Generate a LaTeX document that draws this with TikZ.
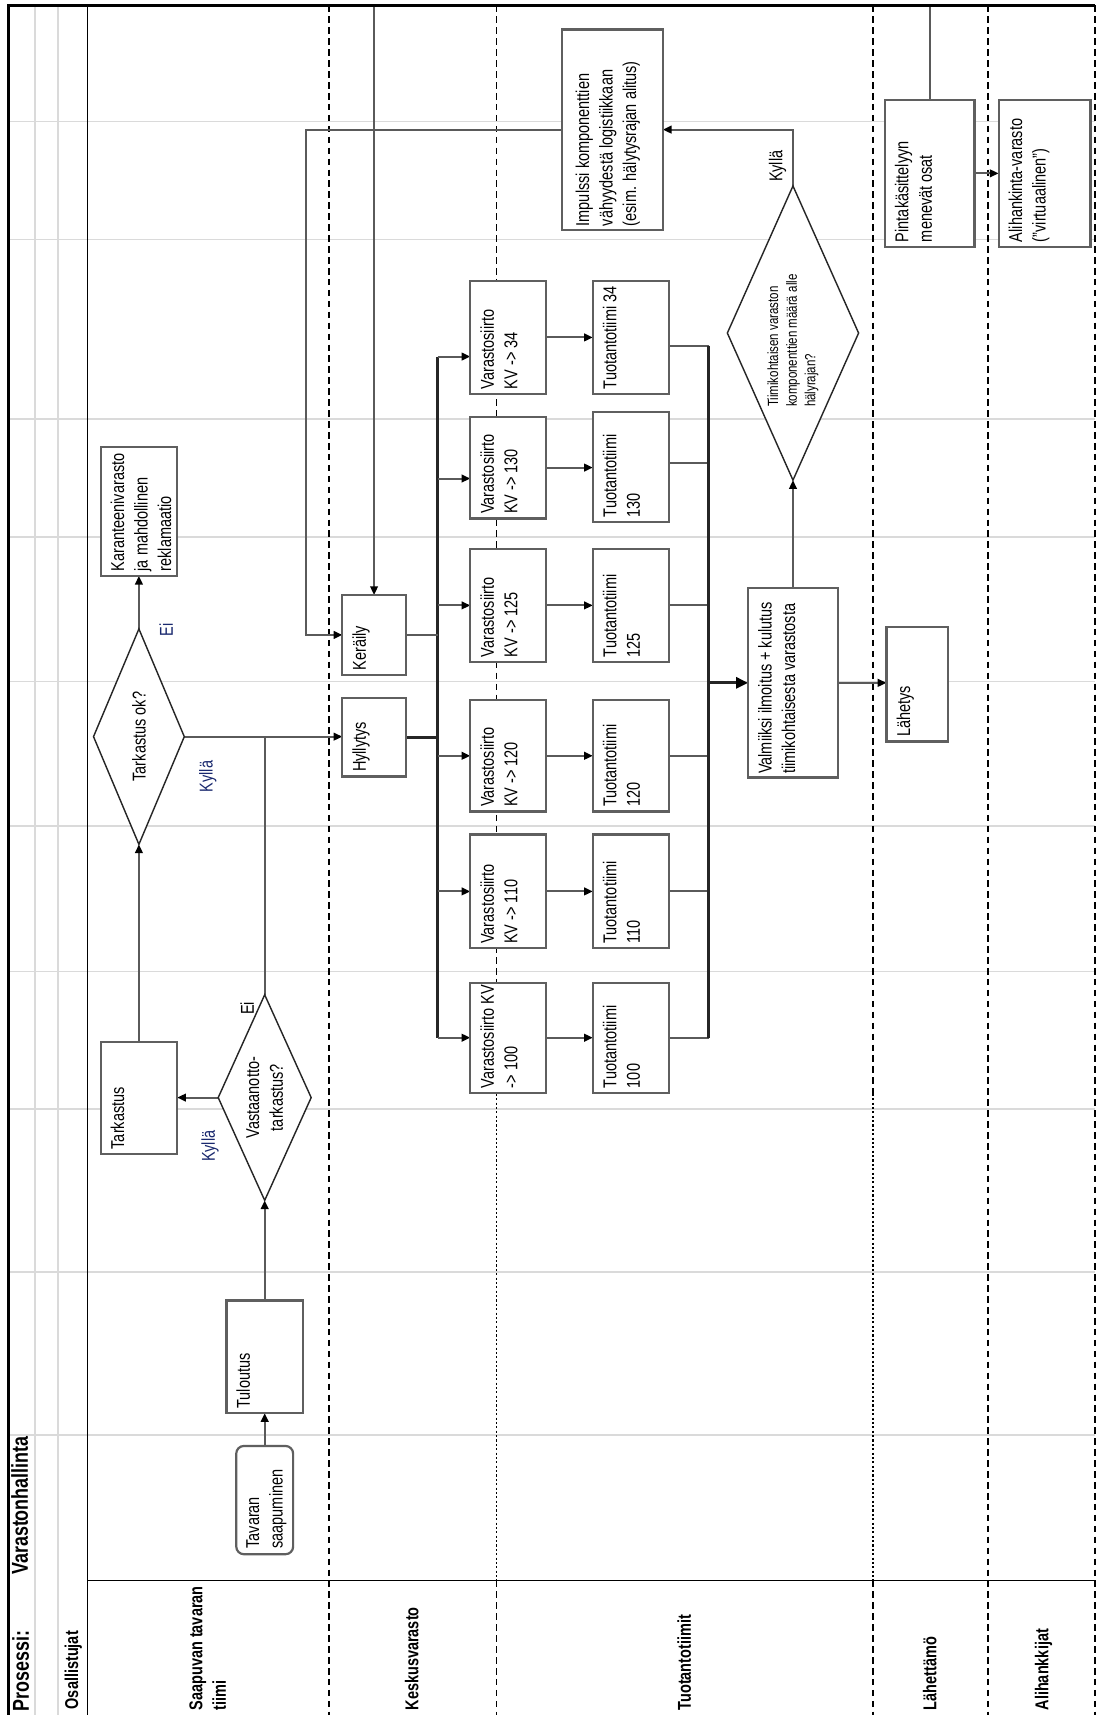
\documentclass[tikz,border=0pt]{standalone}
\usepackage{fontspec}
\setmainfont{Liberation Sans}[FakeStretch=0.78]
\usetikzlibrary{shapes.geometric,arrows.meta}
\pgfdeclarelayer{bg}
\pgfsetlayers{bg,main}
\newcommand\dgtxt{\fontsize{17}{21.5}\selectfont}
\newcommand\dgsmall{\fontsize{13.5}{17}\selectfont}
\newcommand\dgbig{\fontsize{21}{25}\selectfont\bfseries}
\newcommand\dglane{\fontsize{17}{21.5}\selectfont\bfseries}
\definecolor{gridgray}{RGB}{218,218,218}
\definecolor{boxgray}{RGB}{95,95,95}
\definecolor{linegray}{RGB}{90,90,90}
\definecolor{lblblue}{RGB}{25,40,110}
\begin{document}
\begin{tikzpicture}[x=1pt,y=-1pt,
  box/.style={rectangle,draw=boxgray,line width=2pt,fill=white,inner sep=0pt,outer sep=0pt},
  dia/.style={diamond,draw=black!85,line width=1.3pt,fill=white,inner sep=0pt,outer sep=0pt},
  txt/.style={rotate=90,anchor=north west,inner sep=0pt,align=left,font=\dgtxt},
  ctxt/.style={rotate=90,anchor=center,inner sep=0pt,align=center,font=\dgtxt},
  lbl/.style={rotate=90,anchor=center,inner sep=0pt,font=\dgtxt},
  lanelbl/.style={rotate=90,anchor=west,inner sep=0pt,font=\dglane},
  conn/.style={draw=linegray,line width=1.8pt,-{Triangle[length=8pt,width=7pt,color=black]}},
  plain/.style={draw=linegray,line width=1.8pt},
  busline/.style={draw=black!85,line width=2.6pt},
  gridln/.style={draw=gridgray,line width=1.3pt},
  lane/.style={draw=black,line width=1.6pt,dash pattern=on 6pt off 4pt},
  laned/.style={draw=black,line width=1.4pt,dash pattern=on 2pt off 2pt}]
\useasboundingbox (0,0) rectangle (1011,1568);

% ---------- process boxes ----------
\node[box,minimum width=52pt,minimum height=99pt,rounded corners=7pt] (tav) at (242,1371.5) {};
\node[box,minimum width=70pt,minimum height=103pt] (tul) at (242,1240.5) {};
\node[box,minimum width=70pt,minimum height=102pt] (tar) at (127,1004) {};
\node[box,minimum width=70pt,minimum height=118pt] (kar) at (127,467.5) {};
\node[box,minimum width=58pt,minimum height=72pt] (hyl) at (342,674) {};
\node[box,minimum width=58pt,minimum height=73pt] (ker) at (342,580.5) {};
\node[box,minimum width=69pt,minimum height=103pt] (v34) at (464.5,308.5) {};
\node[box,minimum width=69pt,minimum height=93pt] (v130) at (464.5,427.5) {};
\node[box,minimum width=69pt,minimum height=103pt] (v125) at (464.5,553.5) {};
\node[box,minimum width=69pt,minimum height=102pt] (v120) at (464.5,691) {};
\node[box,minimum width=69pt,minimum height=104pt] (v110) at (464.5,815) {};
\node[box,minimum width=69pt,minimum height=100.5pt] (v100) at (464.5,948.75) {};
\node[box,minimum width=70pt,minimum height=103pt] (t34) at (577,308.5) {};
\node[box,minimum width=70pt,minimum height=100pt] (t130) at (577,427) {};
\node[box,minimum width=70pt,minimum height=103pt] (t125) at (577,553.5) {};
\node[box,minimum width=70pt,minimum height=102pt] (t120) at (577,691) {};
\node[box,minimum width=70pt,minimum height=104pt] (t110) at (577,815) {};
\node[box,minimum width=70pt,minimum height=100.5pt] (t100) at (577,948.75) {};
\node[box,minimum width=82pt,minimum height=173pt] (val) at (725,624.3) {};
\node[box,minimum width=56pt,minimum height=105pt] (lah) at (838.5,625.5) {};
\node[box,minimum width=92pt,minimum height=183pt] (imp) at (560,118.5) {};
\node[box,minimum width=82pt,minimum height=134pt] (pin) at (850,158.5) {};
\node[box,minimum width=84pt,minimum height=134pt] (ali) at (955,158.5) {};

% ---------- decisions ----------
\node[dia,minimum width=83pt,minimum height=197pt] (dto) at (127,673.5) {};
\node[dia,minimum width=85pt,minimum height=188pt] (dvt) at (242,1003.5) {};
\node[dia,minimum width=120pt,minimum height=269pt] (dtk) at (725,304.5) {};

% ---------- texts in boxes ----------
\node[txt] (tavT) at ([xshift=9pt,yshift=5pt]tav.south west) {Tavaran\\saapuminen};
\node[txt] (tulT) at ([xshift=9pt,yshift=4pt]tul.south west) {Tuloutus};
\node[txt] (tarT) at ([xshift=9pt,yshift=4pt]tar.south west) {Tarkastus};
\node[txt] (karT) at ([xshift=9pt,yshift=4pt]kar.south west) {Karanteenivarasto\\ja mahdollinen\\reklamaatio};
\node[txt] (hylT) at ([xshift=9pt,yshift=4pt]hyl.south west) {Hyllytys};
\node[txt] (kerT) at ([xshift=9pt,yshift=4pt]ker.south west) {Keräily};
\node[txt] (v34T) at ([xshift=9pt,yshift=4pt]v34.south west) {Varastosiirto\\KV -> 34};
\node[txt] (v130T) at ([xshift=9pt,yshift=4pt]v130.south west) {Varastosiirto\\KV -> 130};
\node[txt] (v125T) at ([xshift=9pt,yshift=4pt]v125.south west) {Varastosiirto\\KV -> 125};
\node[txt] (v120T) at ([xshift=9pt,yshift=4pt]v120.south west) {Varastosiirto\\KV -> 120};
\node[txt] (v110T) at ([xshift=9pt,yshift=4pt]v110.south west) {Varastosiirto\\KV -> 110};
\node[txt] (v100T) at ([xshift=9pt,yshift=4pt]v100.south west) {Varastosiirto KV\\-> 100};
\node[txt] (t34T) at ([xshift=9pt,yshift=4pt]t34.south west) {Tuotantotiimi 34};
\node[txt] (t130T) at ([xshift=9pt,yshift=4pt]t130.south west) {Tuotantotiimi\\130};
\node[txt] (t125T) at ([xshift=9pt,yshift=4pt]t125.south west) {Tuotantotiimi\\125};
\node[txt] (t120T) at ([xshift=9pt,yshift=4pt]t120.south west) {Tuotantotiimi\\120};
\node[txt] (t110T) at ([xshift=9pt,yshift=4pt]t110.south west) {Tuotantotiimi\\110};
\node[txt] (t100T) at ([xshift=9pt,yshift=4pt]t100.south west) {Tuotantotiimi\\100};
\node[txt] (valT) at ([xshift=9pt,yshift=3pt]val.south west) {Valmiiksi ilmoitus + kulutus\\tiimikohtaisesta varastosta};
\node[txt] (lahT) at ([xshift=9pt,yshift=4pt]lah.south west) {Lähetys};
\node[txt] (impT) at ([xshift=12pt,yshift=3pt]imp.south west) {Impulssi komponenttien\\vähyydestä logistiikkaan\\(esim. hälytysrajan alitus)};
\node[txt] (pinT) at ([xshift=9pt,yshift=4pt]pin.south west) {Pintakäsittelyyn\\menevät osat};
\node[txt] (aliT) at ([xshift=9pt,yshift=4pt]ali.south west) {Alihankinta-varasto\\(''virtuaalinen'')};

\node[ctxt] (dtoT) at (dto.center) {Tarkastus ok?};
\node[ctxt] (dvtT) at (dvt.center) {Vastaanotto-\\tarkastus?};
\node[rotate=90,inner sep=0pt,align=left,font=\dgsmall] (dtkT) at ([yshift=-7pt]dtk.center) {Tiimikohtaisen varaston\\komponenttien määrä alle\\hälyrajan?};

% ---------- branch labels ----------
\node[lbl,text=lblblue] (l1) at (152,576) {Ei};
\node[lbl,text=lblblue] (l2) at (190,710) {Kyllä};
\node[lbl] (l3) at (226,922) {Ei};
\node[lbl,text=lblblue] (l4) at (192,1048) {Kyllä};
\node[lbl] (l5) at (711,152) {Kyllä};

% ---------- header and lane labels ----------
\node[rotate=90,anchor=west,inner sep=0pt,font=\dgbig] (hp) at (19,1565) {Prosessi:};
\node[rotate=90,anchor=west,inner sep=0pt,font=\dgbig] (hv) at (18,1440) {Varastonhallinta};
\node[lanelbl] (ho) at (67,1563) {Osallistujat};
\node[rotate=90,anchor=north west,inner sep=0pt,align=left,font=\dglane] (ls) at (173,1564) {Saapuvan tavaran\\tiimi};
\node[lanelbl] (lk) at (376.5,1564) {Keskusvarasto};
\node[lanelbl] (lt) at (625.5,1564) {Tuotantotiimit};
\node[lanelbl] (ll) at (850,1564) {Lähettämö};
\node[lanelbl] (la) at (954,1564) {Alihankkijat};

% ---------- frame (top layer) ----------
\draw[black,line width=2.4pt] (8,1568) -- (8,5) -- (1001,5);
\draw[black,line width=1.3pt] (80,5) -- (80,1568);
\draw[black,line width=1.3pt] (80,1445) -- (1001,1445);

\begin{pgfonlayer}{bg}
\fill[white] (0,0) rectangle (1011,1568);
% grid
\foreach \gy in {111,219,383,491,623,755,888,1014,1163,1312}
  \draw[gridln] (8,\gy) -- (1001,\gy);
\draw[gridln] (32,5) -- (32,1568);
\draw[gridln] (53,5) -- (53,1568);
% lanes
\draw[lane] (301,5) -- (301,1568);
\draw[lane] (454,5) -- (454,1000);
\draw[laned] (454,1000) -- (454,1445);
\draw[lane] (454,1445) -- (454,1568);
\draw[lane] (798,5) -- (798,1000);
\draw[laned] (798,1000) -- (798,1445);
\draw[lane] (798,1445) -- (798,1568);
\draw[lane] (903,5) -- (903,1568);
\draw[lane,line width=2.4pt] (1001,5) -- (1001,1568);

% connectors
\draw[conn] (tav.north) -- (tul.south);
\draw[conn] (tul.north) -- (dvt.south);
\draw[conn] (dvt.west) -- (dvt.west -| tar.east);
\draw[plain] (dvt.north) -- (dvt.north |- hyl.west);
\draw[conn] (tar.north) -- (dto.south);
\draw[conn] (dto.north) -- (kar.south);
\draw[conn] (dto.east) -- (dto.east -| hyl.west);

\coordinate (busT) at (400,326);
\coordinate (busB) at (400,948.75);
\draw[busline] (busT) -- (busB);
\draw[busline] (hyl.east) -- (hyl.east -| busT);
\draw[plain] (ker.east) -- (ker.east -| busT);
\foreach \n/\yy in {v34/326,v130/437.5,v125/553.5,v120/691,v110/815,v100/948.75}{
  \coordinate (b\n) at (400,\yy);
  \draw[conn] (b\n) -- (b\n -| \n.west);
}
\foreach \a/\b in {v34/t34,v130/t130,v125/t125,v120/t120,v110/t110,v100/t100}
  \draw[conn] (\a.east) -- (\a.east -| \b.west);
\foreach \n/\yy in {t34/316,t130/423,t125/553.5,t120/691,t110/815,t100/948.75}{
  \coordinate (c\n) at (648,\yy);
  \draw[plain] (c\n -| \n.east) -- (c\n);
}
\draw[busline] (ct34) -- (ct100);
\draw[busline,-{Triangle[length=11pt,width=10pt,color=black]}] (val.west -| ct34) -- (val.west);

\draw[conn] (val.north) -- (dtk.south);
\draw[conn] (dtk.north) |- (imp.east);
\coordinate (kb) at (280,118.5);
\draw[conn] (imp.west) -- (imp.west -| kb) |- (ker.west);
\coordinate (topy) at (0,5);
\draw[conn] (pin.north) -- (pin.north |- topy) -| (ker.north);
\draw[conn] (pin.east) -- (ali.west);
\draw[conn] (val.east) -- (val.east -| lah.west);
\end{pgfonlayer}
\end{tikzpicture}
\end{document}
